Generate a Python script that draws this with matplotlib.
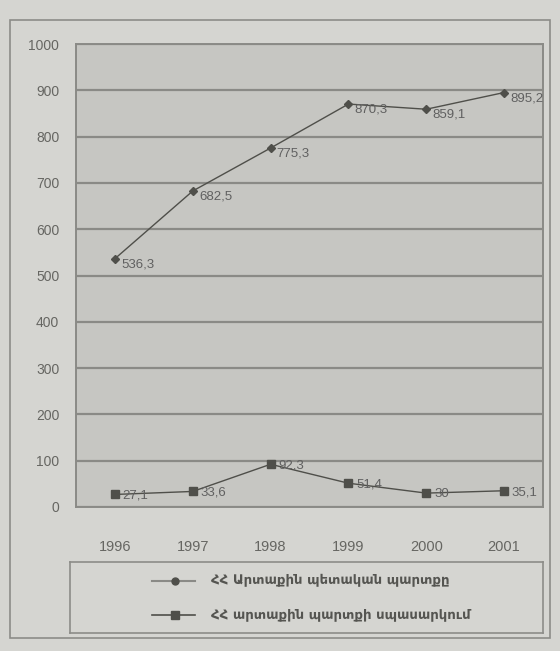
import numpy as np
import matplotlib
matplotlib.use("Agg")
import matplotlib.pyplot as plt
from matplotlib.patches import Rectangle

years = ['1996', '1997', '1998', '1999', '2000', '2001']
debt = [536.3, 682.5, 775.3, 870.3, 859.1, 895.2]
service = [27.1, 33.6, 92.3, 51.4, 30, 35.1]
debt_name = 'ՀՀ Արտաքին պետական պարտքը'
service_name = 'ՀՀ արտաքին պարտքի սպասարկում'

plt.rcParams['font.family'] = ['Liberation Sans', 'DejaVu Sans']

fig = plt.figure(figsize=(5.6, 6.51), dpi=100, facecolor='#d5d5d1')
W, H = 560.0, 651.0

# outer frame of the chart
fig.patches.append(Rectangle((10 / W, 1 - 638 / H), 540 / W, 618 / H,
                             transform=fig.transFigure, fill=False,
                             edgecolor='#8c8c88', linewidth=1.2))

ax = fig.add_axes([76 / W, 1 - 507 / H, 467 / W, 463 / H])
ax.set_facecolor('#c6c6c2')
x = np.arange(len(years))

line_col = '#4f4f4a'
ax.plot(x, debt, color=line_col, lw=1.0, marker='D', ms=4, zorder=3)
ax.plot(x, service, color=line_col, lw=1.0, marker='s', ms=6, zorder=3)

for xi, v in zip(x, debt):
    ax.text(xi + 0.08, v - 12, ('%.1f' % v).replace('.', ','), fontsize=9.5,
            color='#606060', va='center', ha='left', clip_on=False)
for xi, v in zip(x, service):
    s = ('%.1f' % v).replace('.', ',') if v % 1 else '%d' % v
    ax.text(xi + 0.1, v - 3, s, fontsize=9.5, color='#606060',
            va='center', ha='left', clip_on=False)

ax.set_xlim(-0.5, 5.5)
ax.set_ylim(0, 1000)
ax.set_yticks(np.arange(0, 1001, 100))
ax.set_xticks(x)
ax.set_xticklabels(years)
ax.yaxis.grid(True, color='#8a8a86', lw=1.6)
ax.set_axisbelow(True)
for sp in ax.spines.values():
    sp.set_color('#8a8a86')
    sp.set_linewidth(1.4)
ax.tick_params(axis='y', length=0, pad=12, labelsize=10, labelcolor='#666662')
ax.tick_params(axis='x', length=0, pad=24, labelsize=10.5, labelcolor='#666662')

# legend box
lax = fig.add_axes([70 / W, 1 - 633 / H, 473 / W, 71 / H])
lax.set_facecolor('#d5d5d1')
lax.set_xticks([])
lax.set_yticks([])
for sp in lax.spines.values():
    sp.set_color('#8c8c88')
    sp.set_linewidth(1.2)
lax.set_xlim(0, 473)
lax.set_ylim(71, 0)
lax.plot([82, 125], [19, 19], color='#8a8a86', lw=1.5)
lax.plot([105], [19], marker='o', color=line_col, ms=5)
lax.plot([82, 125], [53, 53], color=line_col, lw=1.2)
lax.plot([105], [53], marker='s', color=line_col, ms=6)
lax.text(141, 19, debt_name, fontsize=9.5, fontweight='bold', color='#555551',
         va='center', ha='left', family=['DejaVu Sans'])
lax.text(141, 53, service_name, fontsize=9.5, fontweight='bold', color='#555551',
         va='center', ha='left', family=['DejaVu Sans'])

fig.savefig('out.png', dpi=100, facecolor=fig.get_facecolor())
